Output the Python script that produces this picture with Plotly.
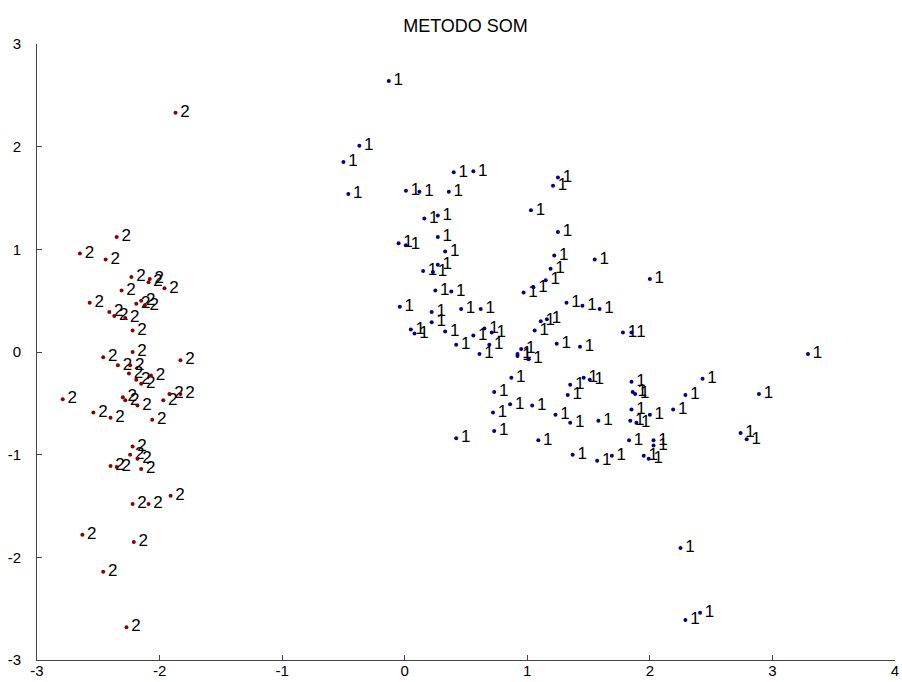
import plotly.graph_objects as go

# Cluster 1 (blue)
c1_x = [-0.13, -0.37, -0.50, -0.46, 0.40, 0.56, 0.01, 0.12, 0.36, 1.25, 1.21, 1.03, 0.16, 0.27,
        1.25, 0.27, -0.05, 0.01, 0.33, 1.22, 1.19, 1.15, 0.15, 0.23, 0.27, 1.05, 0.25, 0.38,
        0.97, -0.04, 0.22, 0.22, 0.46, 0.62, 1.32, 1.45, 0.05, 0.08, 0.33, 0.42, 0.56, 0.65,
        0.71, 0.69, 0.61, 1.11, 1.16, 1.06, 1.24, 1.43, 0.95, 0.92, 0.92, 1.01, 0.87, 0.73,
        0.86, 0.72, 1.04, 1.23, 1.35, 1.35, 1.33, 1.46, 1.51, 0.73, 0.42, 1.09, 1.37, 1.55,
        2.00, 1.59, 1.78, 1.85, 3.29, 1.85, 1.86, 1.88, 2.43, 2.29, 2.89, 1.85, 2.00, 2.19,
        1.58, 1.84, 1.89, 1.83, 2.03, 2.03, 2.74, 2.79, 1.57, 1.69, 1.95, 1.99, 2.25, 2.29, 2.41]
c1_y = [2.64, 2.01, 1.85, 1.54, 1.75, 1.76, 1.57, 1.56, 1.56, 1.70, 1.62, 1.38, 1.30, 1.33,
        1.17, 1.12, 1.06, 1.04, 0.98, 0.94, 0.81, 0.70, 0.79, 0.78, 0.85, 0.63, 0.60, 0.59,
        0.58, 0.44, 0.39, 0.29, 0.42, 0.42, 0.48, 0.45, 0.22, 0.18, 0.20, 0.07, 0.16, 0.23,
        0.19, 0.07, -0.02, 0.30, 0.32, 0.21, 0.08, 0.05, 0.03, -0.02, -0.04, -0.07, -0.25, -0.39,
        -0.51, -0.59, -0.52, -0.61, -0.69, -0.32, -0.42, -0.25, -0.27, -0.77, -0.84, -0.86, -1.00, 0.90,
        0.71, 0.42, 0.19, 0.19, -0.02, -0.29, -0.39, -0.41, -0.26, -0.42, -0.41, -0.56, -0.61, -0.56,
        -0.67, -0.67, -0.69, -0.86, -0.86, -0.91, -0.79, -0.85, -1.06, -1.01, -1.01, -1.04, -1.91, -2.61, -2.54]

# Cluster 2 (red)
c2_x = [-1.87, -2.35, -2.65, -2.44, -2.23, -2.08, -2.09, -2.31, -1.96, -2.57, -2.15, -2.19, -2.12,
        -2.41, -2.37, -2.28, -2.22, -2.22, -2.46, -1.83, -2.34, -2.24, -2.25, -2.19, -2.15, -2.07,
        -2.79, -2.30, -2.28, -2.18, -1.97, -1.92, -1.83, -2.54, -2.40, -2.06, -2.22, -2.24, -2.18,
        -2.40, -2.35, -2.15, -1.91, -2.22, -2.09, -2.63, -2.21, -2.46, -2.27]
c2_y = [2.33, 1.12, 0.96, 0.90, 0.73, 0.71, 0.68, 0.60, 0.62, 0.48, 0.50, 0.47, 0.455,
        0.39, 0.35, 0.33, 0.21, 0.00, -0.05, -0.08, -0.13, -0.13, -0.21, -0.27, -0.31, -0.23,
        -0.46, -0.44, -0.47, -0.52, -0.47, -0.41, -0.41, -0.59, -0.64, -0.66, -0.92, -1.00, -1.04,
        -1.11, -1.12, -1.14, -1.40, -1.48, -1.48, -1.78, -1.85, -2.14, -2.68]

x_ticks = [-3, -2, -1, 0, 1, 2, 3, 4]
y_ticks = [-3, -2, -1, 0, 1, 2, 3]

FONT = "Liberation Sans, Arial, sans-serif"
LABEL_FONT = dict(family=FONT, size=17, color="black")

fig = go.Figure()
for xs, ys, lab, col in [(c2_x, c2_y, "2", "rgb(140,0,0)"), (c1_x, c1_y, "1", "rgb(0,0,150)")]:
    # labels (transparent carrier markers give the gap between dot and text)
    fig.add_trace(go.Scatter(
        x=xs, y=ys, mode="markers+text", text=[lab] * len(xs),
        textposition="middle right", textfont=LABEL_FONT,
        marker=dict(size=6, color="rgba(0,0,0,0)"), showlegend=False,
        cliponaxis=False, hoverinfo="skip"))
    # dots
    fig.add_trace(go.Scatter(
        x=xs, y=ys, mode="markers", marker=dict(size=4, color=col),
        showlegend=False, cliponaxis=False))

axis_common = dict(showgrid=False, zeroline=False, showline=True, linecolor="#444",
                   linewidth=1, ticks="inside", ticklen=5, tickcolor="#444",
                   tickfont=dict(family=FONT, size=15, color="black"), mirror=False,
                   automargin=False)
fig.update_layout(
    width=902, height=682,
    margin=dict(l=37, r=7, t=44, b=22),
    paper_bgcolor="white", plot_bgcolor="white",
    title=dict(text="METODO SOM", x=0.5161, xanchor="center", y=0.963, yanchor="middle",
               font=dict(family=FONT, size=18, color="black")),
    xaxis=dict(range=[-3, 4], tickvals=x_ticks, ticktext=[str(v) for v in x_ticks],
               ticklabelstandoff=-3, **axis_common),
    yaxis=dict(range=[-3, 3], tickvals=y_ticks, ticktext=[str(v) for v in y_ticks],
               ticklabelstandoff=12, **axis_common),
)
fig.write_html("out.html")
